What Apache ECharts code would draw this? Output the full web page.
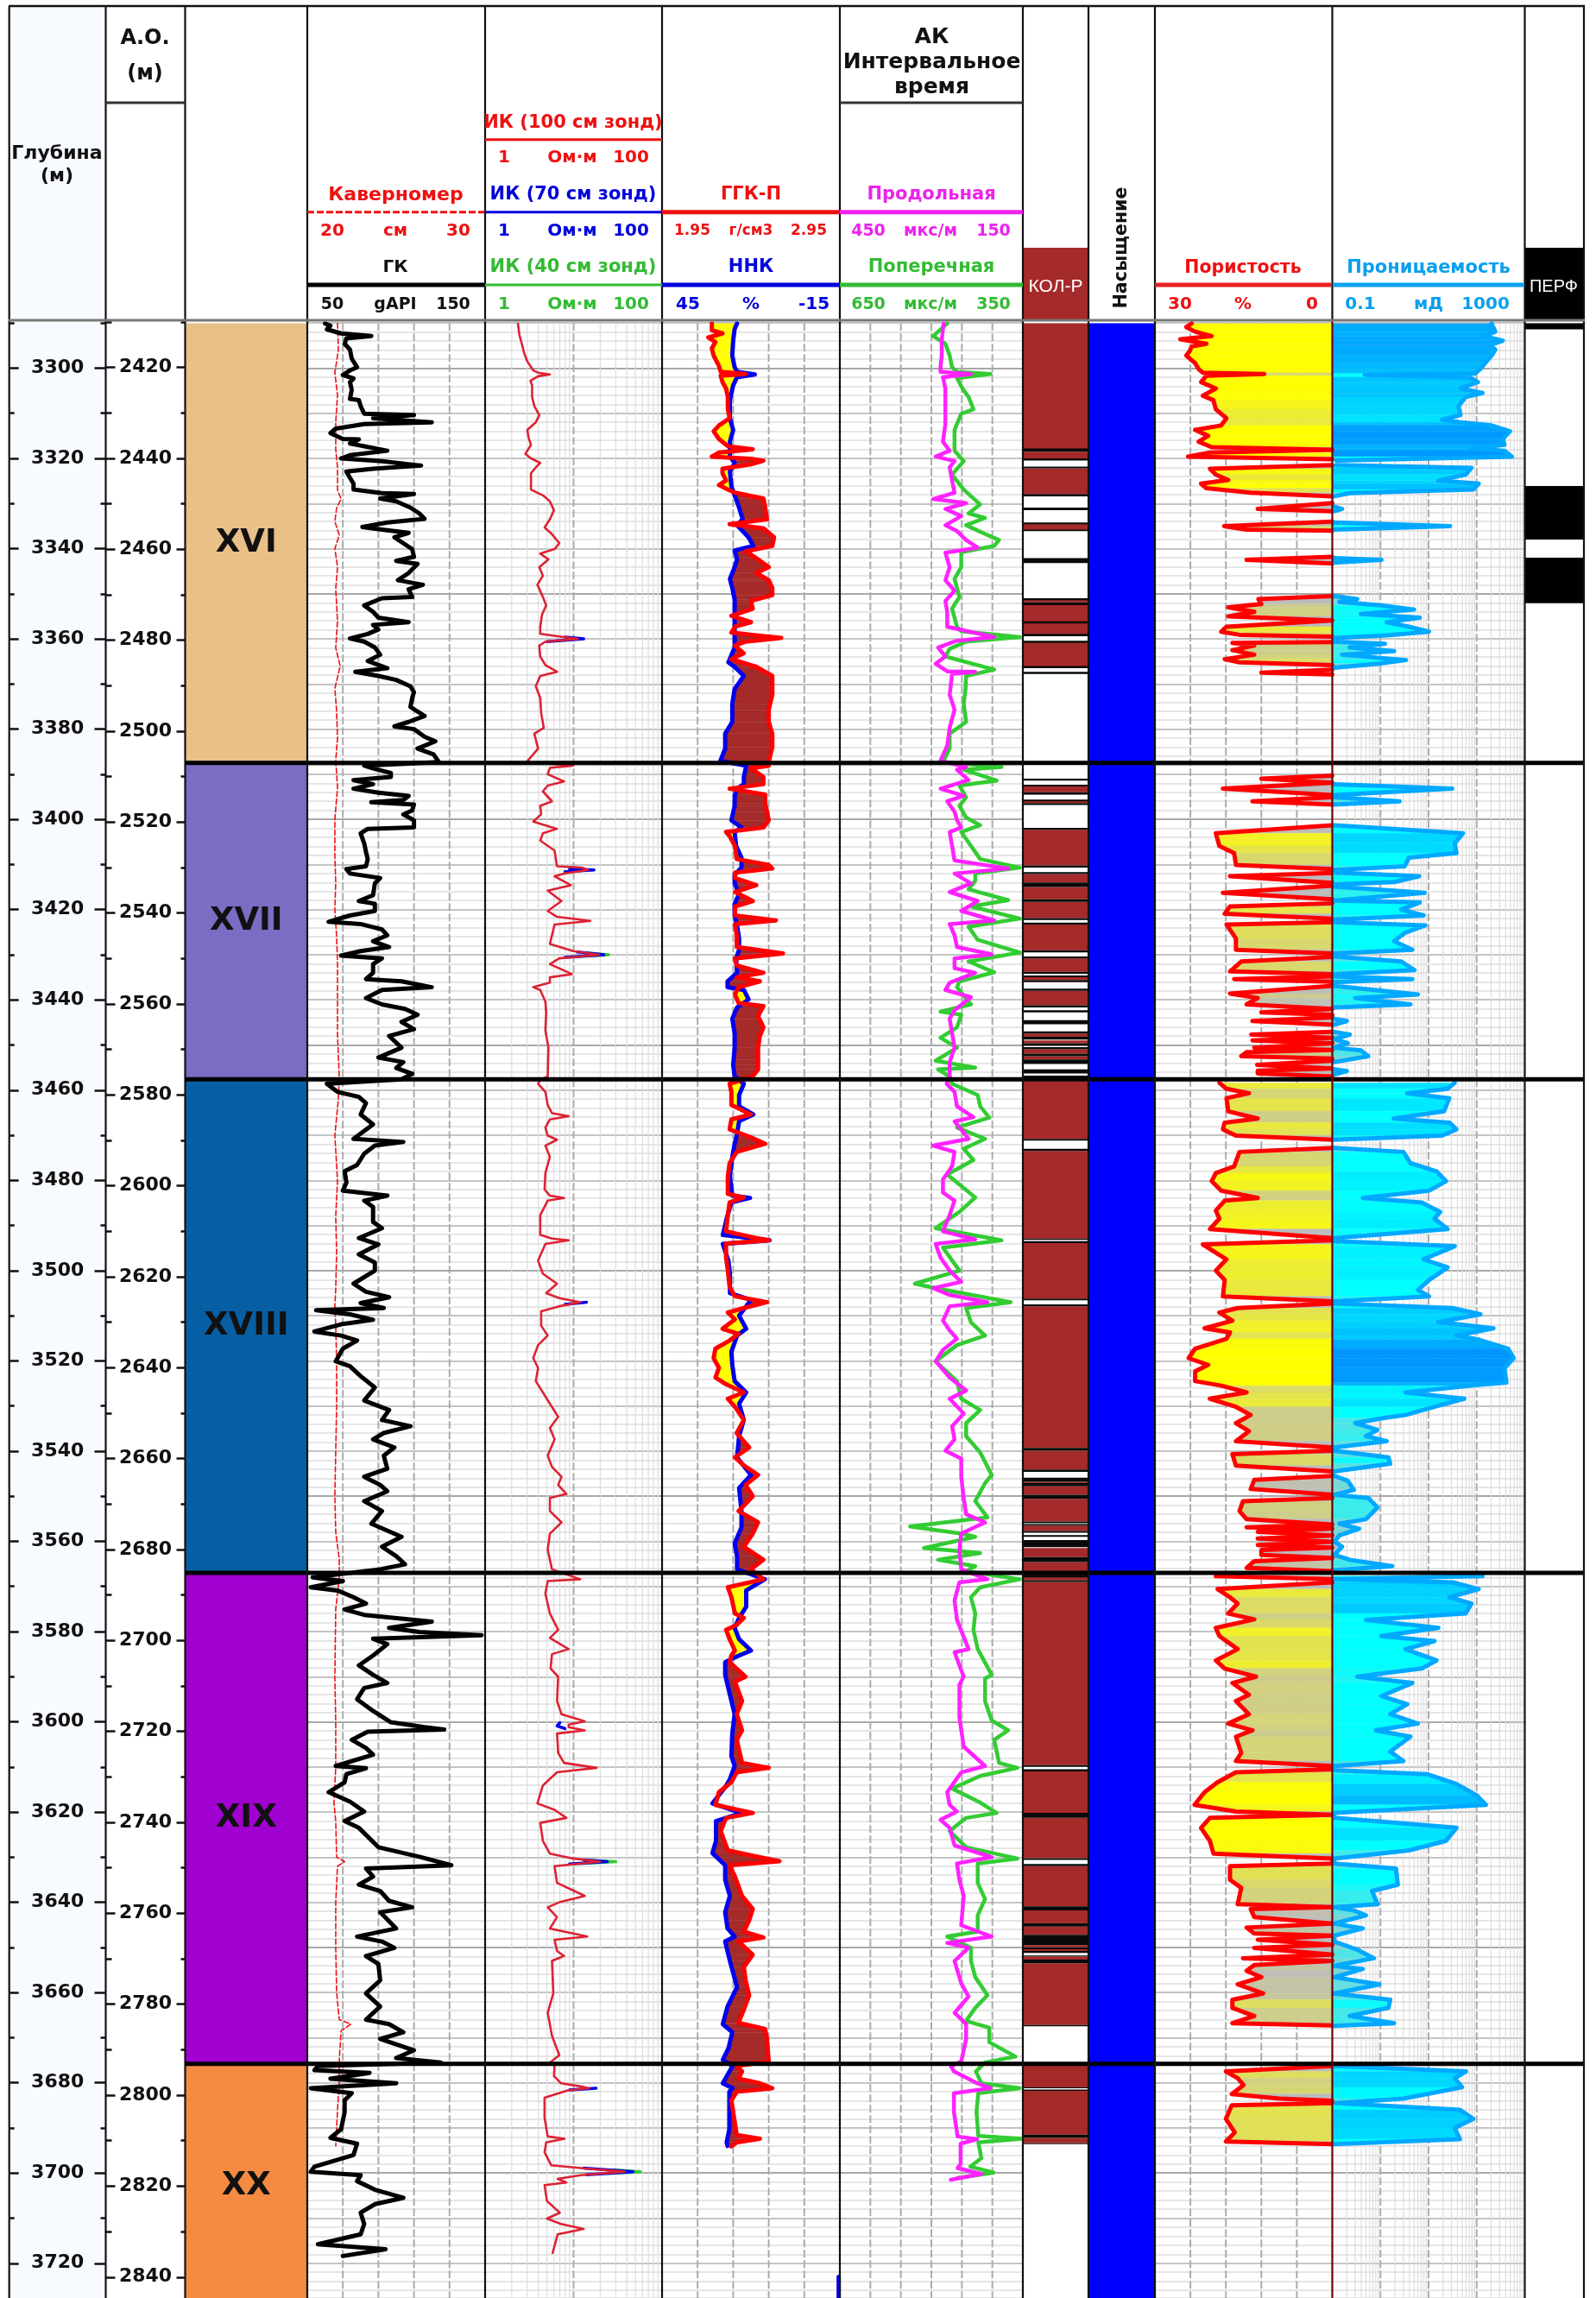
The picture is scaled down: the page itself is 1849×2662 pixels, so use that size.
<!DOCTYPE html>
<html><head><meta charset="utf-8"><title>Каротаж</title>
<script src="https://cdn.jsdelivr.net/npm/echarts@6/dist/echarts.min.js"></script>
<style>html,body{margin:0;padding:0;background:#fff}#c{width:1849px;height:2662px}</style></head>
<body><div id="c"></div>
<script>
// ---------- DATA: [depth m, value]; null = no reading ----------
const zoneNames=['XVI','XVII','XVIII','XIX','XX'];
const zoneTops=[3290,3387.5,3457.6,3567,3675.8];
const zoneBottoms=[3387.5,3457.6,3567,3675.8,3730];
const depthLabels=[3300,3320,3340,3360,3380,3400,3420,3440,3460,3480,3500,3520,3540,3560,3580,3600,3620,3640,3660,3680,3700,3720];
const depthMinor=[3290,3310,3330,3350,3370,3390,3410,3430,3450,3470,3490,3510,3530,3550,3570,3590,3610,3630,3650,3670,3690,3710];
const aoLabels=[2420,2440,2460,2480,2500,2520,2540,2560,2580,2600,2620,2640,2660,2680,2700,2720,2740,2760,2780,2800,2820,2840];
const aoMinor=[2410,2430,2450,2470,2490,2510,2530,2550,2570,2590,2610,2630,2650,2670,2690,2710,2730,2750,2770,2790,2810,2830];

const gkLog=[[3290.1,60],[3290.6,63],[3291.4,61],[3292.3,69],[3292.9,86],[3293.4,72],[3294.6,71],[3295.9,74],[3297.9,75],[3299.8,78],[3300.5,74],[3301.5,70],[3302.3,76],[3303.1,74],[3304.8,75],[3306.8,74],[3307.1,79],[3308.4,80],[3310.1,82],[3310.4,110],[3311.1,87],[3312,120],[3312.4,82],[3313.4,66],[3314.4,63],[3315.7,70],[3315.8,79],[3316.7,74],[3318.3,95],[3319.3,74],[3320,69],[3320.6,92],[3321.6,114],[3322.3,87],[3322.9,72],[3324.3,74],[3325.6,76],[3326.9,76],[3327.7,92],[3327.9,110],[3328.9,91],[3329.5,100],[3330.9,108],[3332.2,113],[3333.4,116],[3334.2,95],[3335.2,81],[3335.8,92],[3336.5,107],[3337.5,99],[3338.8,104],[3340.1,109],[3341.8,110],[3342.7,100],[3343.4,112],[3345.4,107],[3347,101],[3348,115],[3349,107],[3350.7,109],[3351,92],[3352.6,82],[3354,87],[3355.3,90],[3356.3,107],[3356.9,87],[3357.9,90],[3358.9,84],[3359.9,74],[3360.6,82],[3361.9,88],[3363.5,91],[3364.9,84],[3366.5,95],[3367.3,77],[3368.2,90],[3369.1,100],[3370.5,108],[3371.8,110],[3373.1,109],[3375.1,108],[3377.1,116],[3378.4,107],[3379.4,99],[3380,110],[3381.7,116],[3382.7,122],[3384.3,112],[3385.6,121],[3387.3,124],
[3388.1,82],[3388.7,87],[3389.7,97],[3390.6,97],[3391.3,76],[3392.2,87],[3393.2,76],[3394.1,90],[3394.8,107],[3395.7,104],[3396.2,86],[3396.7,110],[3398,109],[3398.9,104],[3400.2,110],[3401.8,110],[3402.1,84],[3403.1,80],[3405.3,82],[3407.2,83],[3408.8,84],[3410.4,83],[3411,72],[3412,74],[3413,91],[3414.2,88],[3416.8,87],[3418.1,79],[3418.7,88],[3420.3,88],[3421.3,74],[3422.7,62],[3423.2,80],[3424.4,92],[3425.7,95],[3427,87],[3428.3,96],[3429.2,80],[3430.2,69],[3430.8,92],[3432.1,87],[3434,87],[3435.4,83],[3435.9,103],[3437.2,120],[3437.8,92],[3439.6,83],[3441,92],[3442,105],[3443.3,112],[3444.9,103],[3446.5,110],[3448,96],[3450.6,103],[3452.8,90],[3453.8,104],[3455.1,100],[3456.4,109],[3457.6,103],
[3458.6,61],[3460.4,67],[3461.5,79],[3462.9,83],[3465.4,80],[3467.6,87],[3470.8,76],[3471.5,104],[3472.3,88],[3474.1,82],[3476.6,78],[3478,71],[3480.5,72],[3482.3,70],[3483.4,95],[3484.5,82],[3485.9,87],[3489.2,87],[3490.6,92],[3492.8,79],[3494.2,90],[3496.4,79],[3498.2,88],[3500,88],[3502.9,76],[3504.7,83],[3505.9,96],[3507.2,80],[3508.3,93],[3508.8,55],[3509.7,74],[3510.9,87],[3511.9,69],[3513.5,54],[3514.4,69],[3515.5,78],[3517.3,70],[3520.1,66],[3521.2,74],[3523.4,80],[3525.9,88],[3528.8,82],[3530.9,96],[3533.1,92],[3534.5,108],[3536,93],[3537.4,87],[3539.2,99],[3541,93],[3543.9,95],[3545.7,82],[3547.5,91],[3548.9,95],[3551.1,82],[3553.3,92],[3556.1,86],[3559,103],[3561.2,92],[3563.3,100],[3565.1,105],[3566.2,91],
[3568,53],[3568.8,70],[3570.2,52],[3570.9,67],[3572.4,76],[3573.8,83],[3575.1,71],[3576.3,82],[3577.8,120],[3579.2,96],[3580.1,113],[3580.8,148],[3581.6,87],[3582.8,95],[3585.3,87],[3587.5,79],[3589.6,87],[3591.4,95],[3592.5,82],[3595,78],[3597.6,87],[3600.1,97],[3601.2,116],[3601.7,127],[3602.2,84],[3604,75],[3605.8,83],[3607.3,87],[3609.8,66],[3610.3,83],[3611.6,72],[3613.4,71],[3615.6,62],[3617.7,74],[3619.9,82],[3622,71],[3623.5,79],[3627.8,90],[3630,114],[3631.8,131],[3632.5,83],[3634.3,87],[3636.1,79],[3637.5,91],[3639.7,96],[3641.1,109],[3642.2,91],[3645.8,100],[3647.6,78],[3648.7,92],[3650.1,99],[3651.9,83],[3653.7,90],[3657.3,91],[3660.2,83],[3663.1,91],[3666,83],[3667,96],[3668.8,104],[3670.3,91],[3672.8,110],[3674.5,100],[3675.5,125],
[3676.3,56],[3677.2,54],[3677.8,85],[3679.1,63],[3680.1,100],[3681.2,52],[3682.3,75],[3683.9,71],[3686.5,71],[3690.3,69],[3692.2,63],[3693.5,78],[3696,76],[3698.6,54],[3699.7,52],[3700.5,80],[3701.8,78],[3703.7,88],[3705.5,104],[3706.9,88],[3708.8,80],[3711.3,82],[3713.6,80],[3715.8,56],[3716.9,94],[3718.4,70]];

const calLog=[[3290,21.7],[3296,21.75],[3301,21.55],[3306,21.7],[3312,21.6],[3318,21.6],[3322,21.7],[3327,21.7],[3329,21.9],[3331,21.65],[3334,21.55],[3337,21.8],[3340,21.55],[3344,21.7],[3349,21.6],[3356,21.7],[3362,21.6],[3366,21.85],[3371,21.55],[3376,21.65],[3382,21.7],[3387,21.6],[3393,21.7],[3400,21.55],[3408,21.55],[3414,21.6],[3420,21.55],[3426,21.65],[3432,21.7],[3440,21.7],[3448,21.7],[3457,21.8],
[3462,21.75],[3470,21.55],[3480,21.7],[3488,21.6],[3496,21.65],[3504,21.6],[3508,21.55],[3512,21.6],[3520,21.65],[3530,21.65],[3540,21.6],[3550,21.55],[3558,21.6],[3564,21.8],[3568,21.8],[3575,21.6],[3590,21.55],[3600,21.6],[3610,21.6],[3618,21.5],[3622,21.6],[3630,21.65],[3631,22.1],[3632,21.7],[3640,21.6],[3650,21.6],[3660,21.65],[3666,21.8],[3667,22.45],[3668.5,21.9],[3675,21.8],[3680,21.8],[3686,21.7],[3694,21.6]];

const ik100Log=[[3290.1,2.35],[3292.6,2.44],[3294.6,2.6],[3296.5,2.75],[3298.5,3],[3300.5,3.5],[3301,3.97],[3301.4,5.4],[3301.8,3.97],[3302.8,3.25],[3303.8,3.4],[3306.4,3.4],[3308.4,3.6],[3310.4,4.1],[3312,3.74],[3313.7,3],[3315.4,3.1],[3317,3.3],[3319,2.85],[3320,3.3],[3321,4.2],[3322,3.74],[3323.3,3.3],[3324.9,3.3],[3326.9,3.3],[3328.2,4.5],[3329.5,5.4],[3331.5,6],[3333.5,5.4],[3335.3,4.7],[3336.8,5.7],[3338.8,6.9],[3340.1,6.1],[3341.1,4.2],[3342.4,5.2],[3344.1,4.1],[3346,4.5],[3348,3.9],[3350.7,4.5],[3352.6,4.9],[3354.6,4.4],[3357.3,4.2],[3358.9,4.2],[3359.6,7.8],[3360,11.2],[3360.6,4.8],[3361.5,4.1],[3363.9,4.2],[3365.8,4.8],[3367.3,6.5],[3368.2,4.2],[3370.5,3.74],[3373.1,4.2],[3376.4,4.3],[3379.7,4.6],[3381,3.6],[3384.3,3.97],[3385.6,3.5],[3387.3,2.93],
[3388.1,9.9],[3388.6,5.4],[3390,5.1],[3391.6,7.8],[3392.5,5.1],[3393.8,4.5],[3396,5.7],[3397,4.2],[3398.9,4.3],[3400.5,3.5],[3402.1,6.5],[3403.1,4.5],[3404.7,4.2],[3406.9,6.1],[3410.4,6.5],[3410.7,12.6],[3411.2,14.6],[3412,7.8],[3412.6,6.1],[3414.6,9.3],[3415.8,5.1],[3418.1,7.3],[3420.3,5.1],[3421.6,6.5],[3422.5,15.5],[3423.3,6.1],[3427.6,5.4],[3429.2,9.9],[3430,19.5],[3430.8,6.9],[3432.1,5.4],[3434.3,9.6],[3435,5.4],[3436.2,5.4],[3437.2,3.5],[3437.8,4.2],[3440.4,4.8],[3442.9,4.9],[3446.8,4.8],[3450.6,5.2],[3457,5.1],[3457.7,4.2],
[3458.6,3.97],[3460.4,4.8],[3463.3,5.1],[3465.1,5.7],[3465.8,8.8],[3466.5,5.4],[3468.3,4.8],[3470.1,5.1],[3471,6.5],[3472.3,4.8],[3474.8,5.4],[3478.4,4.8],[3482,4.7],[3483.4,5.4],[3483.9,7.8],[3484.5,5.1],[3487.7,4.2],[3492.1,4.2],[3492.9,5.7],[3493.3,8.8],[3494.1,4.8],[3497.8,3.97],[3500.7,4.5],[3502.9,6.5],[3505,4.9],[3506.1,6.9],[3507,11.9],[3507.9,6.9],[3509,4.3],[3512.2,4.3],[3514.4,5.1],[3516.5,3.97],[3519.4,3.5],[3521.6,3.97],[3524.5,3.74],[3527,4.5],[3529.5,5.4],[3532.4,6.7],[3534.9,5.4],[3537.4,6.1],[3541,5.1],[3543.5,5.7],[3545.7,7.3],[3547.5,6.7],[3549.5,8.3],[3550.4,5.4],[3553.3,5.4],[3555.8,7.3],[3558.3,5.4],[3561.9,5.1],[3566.2,5.7],
[3568.4,11.9],[3568.8,5.1],[3571.6,4.8],[3576,5.4],[3579.6,6.7],[3581.4,5.4],[3583.9,8.8],[3585,5.7],[3588.2,5.5],[3590,6.7],[3595.4,6.5],[3598.3,7.3],[3599.9,13.4],[3600.6,8.8],[3601.2,8.8],[3601.9,13.4],[3602.6,6.5],[3606.9,6.7],[3609.1,7.8],[3610.2,18.2],[3611.2,6.5],[3614.1,4.5],[3618.1,3.9],[3619.5,6.1],[3621.3,8.3],[3622.4,4.2],[3626.4,4.5],[3629.2,5.4],[3630.3,9.9],[3631,20],[3632,6.1],[3635.7,6.5],[3638.6,13.4],[3640,6.9],[3641.1,5.1],[3643.3,6.5],[3645.8,5.4],[3647.6,14.3],[3648.3,6.1],[3650.8,6.5],[3651.9,7.8],[3653,5.7],[3660.2,5.9],[3664.5,5.1],[3669.6,5.7],[3673.9,6.9],[3675.5,5.4],
[3676.3,6.1],[3678.5,6],[3680.1,7.2],[3680.8,12],[3681.2,15],[3681.7,8.6],[3683.3,4.7],[3687.7,4.7],[3691.9,5.1],[3692.4,7.9],[3693.2,4.9],[3695.4,4.7],[3698.3,5.6],[3698.9,12],[3699.7,38],[3700.5,12],[3701.3,6.6],[3702.1,8.3],[3702.7,4.7],[3706.2,5],[3708.8,7],[3710.1,5],[3711.3,7.2],[3712.4,13],[3713.6,6.6],[3717.7,5.8]];
const ik70Tips=[[3359.6,8],[3360,13],[3360.6,5],[3361,null],[3411,9],[3411.2,17],[3411.6,8],[3412,null],[3429.4,11],[3430,22],[3430.6,8],[3431,null],[3507,14],[3507.5,8],[3508,null],[3600.2,7],[3600.9,6.5],[3601.5,8],[3602,null],[3630.6,13],[3631,24],[3631.5,9],[3632,null],[3698.9,13],[3699.7,47],[3700.4,14],[3701,null],[3681.2,18],[3681.6,9]];
const ik40Tips=[[3429.6,14],[3430,25],[3430.4,11],[3431,null],[3630.7,15],[3631,30],[3631.4,12],[3632,null],[3699.3,28],[3699.7,57],[3700.1,24]];

const ggkLog=[[3290.1,2.23],[3291.6,2.23],[3292.3,2.29],[3293.2,2.21],[3294.2,2.25],[3295.6,2.23],[3297.2,2.24],[3299.5,2.27],[3300.8,2.28],[3301.3,2.42],[3301.7,2.28],[3303.1,2.29],[3304.5,2.31],[3306.4,2.32],[3309.1,2.32],[3311.1,2.33],[3312.7,2.27],[3314,2.24],[3315.7,2.27],[3317.3,2.32],[3318,2.46],[3318.7,2.27],[3319.6,2.23],[3320.1,2.45],[3320.5,2.52],[3321.3,2.45],[3322.3,2.29],[3323.3,2.29],[3324.9,2.31],[3325.9,2.27],[3326.9,2.32],[3327.6,2.36],[3328.9,2.52],[3330.9,2.53],[3333.5,2.54],[3334.6,2.33],[3335.5,2.52],[3337.5,2.58],[3339.4,2.57],[3340.6,2.42],[3342.1,2.48],[3344.1,2.55],[3345.4,2.48],[3347,2.55],[3348.7,2.57],[3350.3,2.57],[3351.6,2.45],[3353.3,2.46],[3354.9,2.34],[3356.3,2.45],[3357.3,2.36],[3358.6,2.34],[3359.2,2.48],[3359.8,2.62],[3360.6,2.42],[3361.5,2.36],[3363.2,2.41],[3364.5,2.34],[3366.2,2.48],[3368.2,2.57],[3372.4,2.57],[3375.7,2.55],[3378.4,2.55],[3381,2.57],[3384,2.57],[3387.3,2.55],
[3388.1,2.55],[3388.7,2.45],[3390.6,2.52],[3392.2,2.52],[3393.2,2.33],[3394.5,2.53],[3396.4,2.53],[3398.3,2.54],[3400.2,2.55],[3401.8,2.52],[3402.8,2.31],[3403.7,2.33],[3405.9,2.36],[3408.8,2.37],[3410.1,2.55],[3410.9,2.57],[3411.8,2.36],[3413,2.36],[3414.6,2.48],[3416.1,2.36],[3418.1,2.46],[3419.3,2.36],[3421.3,2.36],[3422.4,2.59],[3423.2,2.36],[3425.7,2.37],[3428.3,2.37],[3429.7,2.63],[3430.8,2.36],[3432.4,2.37],[3434,2.52],[3435,2.37],[3435.9,2.5],[3437.2,2.38],[3438.8,2.36],[3440.7,2.38],[3441.4,2.52],[3443.6,2.49],[3446.1,2.52],[3448,2.5],[3450.6,2.49],[3453.2,2.49],[3455.4,2.49],[3457,2.46],
[3458.6,2.33],[3460.4,2.34],[3463.3,2.34],[3465.4,2.45],[3466.5,2.34],[3468.7,2.33],[3470.5,2.45],[3471.9,2.53],[3473.7,2.37],[3476.2,2.33],[3479.1,2.32],[3483,2.32],[3483.8,2.41],[3484.9,2.33],[3487.7,2.32],[3491.3,2.31],[3492.8,2.48],[3493.3,2.55],[3494,2.31],[3497.1,2.31],[3500,2.32],[3503.6,2.33],[3505.7,2.36],[3507,2.54],[3508.3,2.41],[3509.3,2.32],[3510.8,2.36],[3512.9,2.29],[3514,2.38],[3515.5,2.33],[3517.3,2.25],[3519.4,2.24],[3521.6,2.27],[3523.7,2.25],[3525.2,2.31],[3527,2.41],[3528.4,2.32],[3530.2,2.36],[3533.1,2.41],[3536,2.37],[3539.2,2.44],[3541.4,2.36],[3543.2,2.41],[3545.3,2.49],[3547.5,2.42],[3550,2.46],[3553.3,2.38],[3555.8,2.49],[3558.3,2.46],[3561.2,2.41],[3564.1,2.52],[3566.2,2.45],
[3568.4,2.52],[3570.2,2.32],[3572.4,2.34],[3576,2.36],[3577,2.41],[3578.5,2.37],[3579.6,2.31],[3581.7,2.33],[3584.2,2.36],[3585.3,2.34],[3586.8,2.33],[3590,2.42],[3591.1,2.36],[3595.4,2.4],[3598.3,2.37],[3601.9,2.4],[3604,2.37],[3609.1,2.4],[3610.2,2.55],[3611.2,2.37],[3613.4,2.34],[3615.6,2.27],[3618.4,2.25],[3620.2,2.46],[3621.3,2.31],[3624.2,2.28],[3628.5,2.32],[3630,2.5],[3630.9,2.61],[3631.8,2.33],[3634.3,2.36],[3638.6,2.4],[3641.5,2.46],[3644,2.44],[3646.5,2.41],[3647.8,2.52],[3648.7,2.38],[3651.6,2.46],[3654.4,2.41],[3657.3,2.42],[3660.6,2.44],[3663.8,2.41],[3666.7,2.38],[3668.1,2.53],[3670.3,2.54],[3675.3,2.55],
[3676.3,2.37],[3677.5,2.4],[3679.1,2.38],[3680.1,2.5],[3681.2,2.57],[3682,2.37],[3683.9,2.34],[3691.6,2.37],[3692.4,2.5],[3693.2,2.37],[3694.1,2.34]];

const nnkLog=[[3290.1,19.7],[3291.3,20.5],[3293.9,21],[3297.2,21.3],[3299.8,20.5],[3300.8,19.7],[3301.4,13.7],[3302,19.7],[3303.8,21],[3307.1,22.1],[3311.1,22.1],[3313.7,21],[3316.3,22.1],[3319.6,22.1],[3321,20.5],[3322.9,22.1],[3326.2,21.6],[3328.2,20.5],[3330.9,19],[3333.5,17.8],[3334.8,19.7],[3337.5,15.8],[3339.4,14.2],[3340.4,20.5],[3342.4,19.7],[3344.1,20.5],[3346.7,22.1],[3348.7,21.3],[3351.3,20.5],[3355.9,20.5],[3361.9,20.5],[3365.2,22.6],[3366.2,20.5],[3368.2,17.4],[3371.1,20.5],[3374.4,21.3],[3378.4,21.3],[3381,23.7],[3384.3,23.7],[3387,25.3],
[3388.1,16.6],[3390.6,17.4],[3392.2,17.4],[3393.2,19.7],[3394.8,20.5],[3397,20.5],[3400.2,21.6],[3401.8,18.2],[3402.8,20.5],[3405.9,20],[3408.5,18.2],[3410.7,18.2],[3412.3,20.5],[3414.2,20.5],[3416.5,19],[3418.7,20.5],[3421.3,20.5],[3423.5,19.7],[3426.4,19],[3428.9,19],[3430.8,20],[3434,19.7],[3435.9,22.9],[3437.2,22.9],[3437.8,17.4],[3439.9,15.8],[3441.7,19.7],[3444.2,21.3],[3447.4,20.5],[3450.6,20.5],[3454.4,21],[3457,20.5],
[3458.6,17.4],[3461.1,19],[3463.6,19],[3465.4,14.2],[3466.9,19],[3469.7,19.7],[3471.9,20.5],[3474.8,21.3],[3479.1,22.1],[3483.4,21.3],[3483.9,15.3],[3484.9,21.6],[3488.5,23.2],[3492.1,24.5],[3493.3,8.7],[3494.1,24.5],[3497.8,22.6],[3500.7,22.1],[3505,22.1],[3506.5,15],[3507.9,16.6],[3510,19],[3512.9,16.6],[3514.4,19.7],[3518,21.6],[3520.9,21.3],[3524.5,20.5],[3527,16.6],[3529.5,19],[3533.1,17.4],[3536.7,19],[3541.4,19.7],[3545.3,15],[3548.2,19],[3553.3,18.2],[3556.9,18.2],[3560.5,20.5],[3563.3,19.7],[3566.2,19.7],
[3568.4,10.3],[3570.9,16.6],[3574.5,16.6],[3577,19],[3579.2,20.5],[3581.7,19],[3584.2,15],[3585.5,19.7],[3586.8,23.7],[3589.6,23.7],[3594,22.1],[3598.3,20.5],[3602.6,21.3],[3607.6,21.6],[3609.8,20.5],[3612.7,22.1],[3614.5,23.7],[3618.1,28],[3620.2,18.2],[3622,26.8],[3626.4,26.8],[3629.1,28],[3631.8,23.7],[3635,23.7],[3638.6,22.1],[3642.2,23.7],[3645.8,22.9],[3647.6,20.5],[3648.7,23.7],[3653,22.1],[3658.8,19.7],[3663.1,22.9],[3667,24.5],[3668.8,21.3],[3672.4,22.6],[3674.9,24.5],
[3676.3,21.2],[3680.1,24.5],[3681.2,21.2],[3682,22.3],[3686.5,22.3],[3690.3,22.3],[3693.2,23.2],[3694,22.9],[3694.5,null],[3723,-14.6],[3727.7,-14.6]];

const akPLog=[[3290.1,280],[3293.9,283],[3297.2,283],[3299.8,285],[3300.8,285],[3301.3,235],[3302,281],[3304.5,277],[3308.4,277],[3312.4,277],[3316.3,281],[3318.3,270],[3319.6,293],[3320.6,262],[3322,270],[3324.9,266],[3327.6,262],[3329,297],[3329.9,243],[3331.2,277],[3332.8,251],[3334.8,277],[3336.1,258],[3338.1,243],[3339.8,224],[3340.9,277],[3344.1,270],[3347,277],[3349.3,262],[3351.6,277],[3354,274],[3357.3,274],[3359.6,197],[3360.4,258],[3361.9,289],[3363.9,277],[3365.5,293],[3367.2,274],[3367.3,228],[3367.8,266],[3372.4,270],[3375.7,262],[3379.7,270],[3383.7,274],[3387,285],
[3388.4,243],[3389,258],[3391.3,239],[3393.2,285],[3394.8,247],[3396,274],[3398.3,262],[3400.2,258],[3401.8,251],[3402.8,270],[3405.9,266],[3409.1,262],[3410.9,174],[3412,262],[3414.2,235],[3416.1,270],[3418.1,224],[3420.3,251],[3422.4,197],[3423.2,270],[3425.7,262],[3428.3,258],[3429.9,201],[3430.8,262],[3433,262],[3434,228],[3436.2,270],[3437.8,277],[3439.4,235],[3442.3,262],[3444.2,270],[3447.4,266],[3450.6,262],[3453.8,270],[3456,270],[3457.3,270],
[3458.6,275],[3460.4,262],[3463.6,258],[3466,231],[3466.9,262],[3470.8,239],[3472.3,297],[3473.7,262],[3476.9,266],[3479.8,281],[3482.7,281],[3484.5,262],[3487.7,270],[3491.3,281],[3493.1,228],[3494.1,293],[3497.1,285],[3500,270],[3502.5,251],[3503.9,297],[3505.4,270],[3507,208],[3507.9,270],[3511.1,281],[3513.3,270],[3515.1,258],[3517.6,281],[3520.1,293],[3523.7,270],[3526.6,243],[3528.4,270],[3531.7,247],[3534.5,266],[3537.4,262],[3539.9,277],[3541.7,251],[3545.7,251],[3550.4,247],[3554,243],[3555.8,212],[3558.3,251],[3561.9,254],[3566.2,251],
[3568.4,208],[3569.1,254],[3573.1,262],[3577.4,258],[3583.9,239],[3584.6,262],[3590,247],[3591.8,254],[3599,254],[3605.5,247],[3609.8,212],[3611.2,251],[3615.6,274],[3618.4,270],[3619.9,258],[3621.7,285],[3623.5,270],[3627.4,262],[3630,201],[3631.4,258],[3635,254],[3638.6,247],[3645.1,251],[3647.6,201],[3649,274],[3650.1,239],[3653,262],[3658,251],[3660.9,239],[3664.5,262],[3667,243],[3670.3,243],[3675.3,251],
[3676.3,268],[3677.5,263],[3680.1,225],[3681.2,203],[3682.3,263],[3686.5,263],[3691.9,257],[3692.5,225],[3693.5,252],[3698,252],[3698.9,257],[3700.2,218],[3701.5,268]];

const akSLog=[[3290.1,474],[3292.9,497],[3294.6,477],[3297.2,470],[3299.8,466],[3300.8,458],[3301.3,403],[3302.2,458],[3304.5,449],[3306.4,439],[3309.1,431],[3310.1,451],[3313.7,462],[3318.3,462],[3320.6,447],[3323.6,466],[3326.9,447],[3330.2,420],[3332.2,439],[3333.2,412],[3334.8,443],[3336.5,416],[3338.1,389],[3339.4,397],[3340.8,451],[3344.1,451],[3346.7,462],[3350.7,454],[3353.3,466],[3357.3,458],[3358.3,451],[3359.6,355],[3360.6,443],[3362.2,470],[3363.9,477],[3366.8,397],[3368.2,443],[3371.1,444],[3374.4,447],[3378.4,443],[3381,470],[3384.3,470],[3387.3,481],
[3388.4,385],[3389,447],[3391.4,393],[3392.5,454],[3395.1,443],[3397,454],[3399.6,443],[3401.3,420],[3402.8,451],[3405.9,435],[3408.8,420],[3410.7,355],[3412,428],[3413.6,428],[3415.5,439],[3417.9,374],[3419.3,435],[3422,355],[3423.8,439],[3426.7,424],[3429.5,355],[3431.5,439],[3433.9,397],[3435.9,454],[3437.2,458],[3441,435],[3442.6,485],[3443.3,451],[3446.1,458],[3448.4,485],[3450.6,458],[3453.5,493],[3455,428],[3455.4,489],[3457,470],
[3458.6,466],[3461.1,424],[3463.6,420],[3466.1,405],[3468.3,458],[3470.8,412],[3473,447],[3475.5,431],[3478.7,474],[3483.8,428],[3487,454],[3490.6,493],[3493.3,385],[3494.9,481],[3500,454],[3502.9,527],[3503.9,493],[3507,370],[3508.3,443],[3511.5,435],[3514.4,412],[3516.5,458],[3520.1,493],[3524.5,458],[3528.4,451],[3530.9,420],[3533.8,443],[3536.7,443],[3540.3,420],[3545.3,401],[3547.1,412],[3551.1,428],[3554.7,408],[3556.7,535],[3558.3,451],[3559,428],[3561.5,512],[3562.6,420],[3564.1,489],[3565.5,428],[3566.6,443],
[3568.4,355],[3570.2,420],[3572.4,435],[3576,428],[3579.6,431],[3583.9,424],[3589.6,401],[3590.4,412],[3595.4,412],[3599.7,401],[3601.9,374],[3604,397],[3609.1,389],[3610.2,359],[3612,420],[3614.8,466],[3617.9,420],[3620.2,393],[3621.3,443],[3624.2,470],[3627.8,443],[3630.3,359],[3631.4,424],[3635.7,424],[3639.3,412],[3642.9,424],[3646.5,424],[3647.6,474],[3650.1,435],[3653,435],[3656.6,428],[3660.6,408],[3663.4,428],[3666.3,443],[3667.8,405],[3671,405],[3674.2,362],[3675.5,412],
[3676.3,418],[3677.5,427],[3680.1,418],[3681.2,355],[3682.3,423],[3686.5,426],[3691.8,423],[3692.4,352],[3693.2,423],[3696.7,418],[3698.6,436],[3699.9,398],[3701.1,457]];

const porLog=[[3290.1,23.8],[3290.9,24.7],[3291.9,23.2],[3292.9,20.4],[3293.6,25.7],[3294.6,21.3],[3295.2,23.8],[3296.2,24.1],[3297.2,24.7],[3298.9,23.2],[3300.2,22.6],[3301,21.9],[3301.3,11.5],[3301.7,21.3],[3303.1,22.2],[3304.5,19.7],[3306.1,21.9],[3307.1,20.1],[3309.1,19.7],[3311.1,17.9],[3312.7,18.8],[3313.7,23.2],[3315,21],[3316.3,22.6],[3317.5,20.4],[3318.1,0],[3318.7,20.7],[3319.6,24.4],[3320.2,0],[3320.5,null],[3321.5,0],[3322.3,20.7],[3323.6,19.7],[3324.8,17.6],[3325.6,22.2],[3326.6,21.3],[3327.6,13.8],[3328.4,0],[3328.8,null],[3329.9,0],[3331.2,12.6],[3331.7,0],[3332,null],[3334,0],[3335,18.3],[3335.8,14.5],[3336,0],[3336.5,null],[3341.8,0],[3342.5,14.5],[3343.3,0],[3343.6,null],[3350.5,0],[3351.2,12.5],[3352.3,12],[3353,17.6],[3354,13.2],[3355,17.6],[3355.9,0],[3357.3,17.9],[3358.4,18.8],[3359.1,15.7],[3359.5,0],[3360,null],[3360.7,0],[3360.9,16.9],[3361.5,13.2],[3362.5,16.9],[3363.5,13.2],[3364.5,18.2],[3365.2,15.7],[3365.8,0],[3366.2,null],[3366.8,0],[3367.5,12],[3367.9,0],[3368.2,null],
[3390.3,0],[3391,12],[3391.9,0],[3392.2,0],[3393.2,18.5],[3394.6,0],[3394.8,null],[3395.1,0],[3396,13.5],[3396.7,0],[3397,null],[3401.3,0],[3403.1,19.7],[3405.9,19.1],[3407.5,16.6],[3410.1,16.3],[3411,0],[3411.9,0],[3412.6,17.3],[3414.1,0],[3414.7,0],[3416.3,18.5],[3417.7,0],[3418.6,0],[3419.3,17.3],[3420.9,18.2],[3422,0],[3422.8,0],[3423.3,17.9],[3426.4,16.3],[3428.9,16.3],[3429.7,0],[3430.5,0],[3431.5,15.4],[3433.7,17.3],[3434.3,0],[3434.8,0],[3435.4,16.6],[3436,0],[3436.9,0],[3438.6,17.3],[3439.6,12.6],[3441,14.5],[3442,0],[3442.3,0],[3442.8,12],[3443.3,0],[3443.9,0],[3444.7,13.5],[3445.5,0],[3446,null],[3447.1,0],[3447.7,13.7],[3448.4,0],[3449,13.5],[3449.6,0],[3450.6,13.2],[3451.1,0],[3451.6,14.5],[3452.5,15.4],[3453,0],[3453.5,0],[3454.4,12.7],[3455.2,0],[3455.7,12.6],[3456.3,12.6],[3457,0],[3457.3,null],
[3458.4,19.1],[3459.7,17.9],[3460.7,14.1],[3461.8,17.9],[3464.7,17.6],[3466.3,12.6],[3467.2,18.2],[3468.7,18.5],[3470.1,16.3],[3471,0],[3471.5,null],[3472.8,0],[3473.7,15.7],[3476.9,16.6],[3478.4,19.7],[3480.2,20.4],[3482.3,18.8],[3483.9,12.6],[3484.5,18.2],[3486.7,19.7],[3488.5,19.1],[3490.8,20.7],[3492.8,0],[3493.3,0],[3494.2,21.9],[3497.5,17.9],[3500,19.7],[3502.1,18.2],[3505.7,18.5],[3506.8,0],[3507.3,0],[3508.3,16],[3509.3,19.1],[3511.1,16.9],[3512.8,21.6],[3513.7,17.3],[3515.1,17.9],[3517.3,23.2],[3519.4,24.3],[3520.9,21],[3522.3,23.2],[3524.5,23.2],[3525.5,18.8],[3527,14.5],[3528.4,20.7],[3530.2,16.3],[3532,13.8],[3533.8,16.3],[3535.6,14.1],[3537.8,16.3],[3539.2,0],[3539.9,0],[3540.7,16.9],[3543.2,16.3],[3544.5,0],[3545,null],[3545.5,0],[3546.4,13.2],[3548.4,13.8],[3549.7,0],[3550.4,0],[3551.1,15.1],[3553.3,15.7],[3555.1,14.5],[3556.3,0],[3556.9,14.5],[3557.2,0],[3557.9,12.6],[3558.7,0],[3559.4,12.6],[3560.1,0],[3560.8,12.6],[3561.4,0],[3561.9,12],[3563,12],[3563.7,0],[3564.4,13.2],[3565.9,14.5],[3566.6,0],[3567,null],
[3567.7,19.7],[3568.4,0],[3569.1,0],[3570.6,19.4],[3572.4,17.3],[3573.8,16],[3576,17.6],[3577.3,13.2],[3579.2,19.7],[3581,19.1],[3583.9,16],[3586.4,19.7],[3588.2,18.2],[3590,12.9],[3591.4,16.9],[3594,14.1],[3595.4,16.3],[3598.3,14.1],[3600.4,17.6],[3601.9,13.5],[3603.3,16.3],[3606.9,15.4],[3608.7,16.3],[3609.8,0],[3610.5,0],[3611.2,16.3],[3613.4,19.4],[3615.6,21.6],[3618.4,23.3],[3619.9,16.3],[3620.6,0],[3621.3,20.7],[3623.5,22.2],[3626.4,20.7],[3629.2,20.1],[3630.3,0],[3631.4,0],[3632,17.3],[3635,17.3],[3636.8,15.4],[3640.4,16],[3641.1,0],[3641.5,13.8],[3643.3,13.2],[3644.7,0],[3645.6,14.5],[3646.9,13.2],[3647.4,0],[3648.3,12.6],[3649.4,0],[3650.1,13.2],[3651.6,0],[3652.4,15.1],[3653,0],[3653.9,13.2],[3655.2,14.5],[3656.6,12],[3658.2,16],[3660.2,11.7],[3661.6,16.9],[3663.4,16.9],[3665.2,13.2],[3666.8,16.9],[3667.3,0],[3667.6,null],
[3676.3,0],[3677.5,18],[3679,16],[3680.5,15],[3682.5,17],[3683.5,9],[3684,0],[3684.5,0],[3685,17],[3688,18],[3691,16.5],[3693,18],[3693.6,0]];

const permLog=[[3290.1,204],[3291.9,244],[3292.9,144],[3293.9,348],[3294.9,188],[3295.9,244],[3297.2,204],[3298.9,150],[3300.2,118],[3301.2,92],[3301.5,0.47],[3302,71],[3303.1,106],[3304.5,46],[3305.5,132],[3306.4,59],[3308.4,42],[3310.4,46],[3311.4,19],[3312,46],[3312.7,204],[3314,492],[3315.7,348],[3317,380],[3317.8,78],[3318.3,380],[3319.6,540],[3320.5,0.12],[3321,null],[3321.5,0.12],[3322.1,78],[3323.6,59],[3324.9,16],[3325.6,110],[3326.9,85],[3327.7,0.23],[3328.4,0.11],[3329,null],[3330.7,0.11],[3331.2,0.16],[3331.7,0.11],[3332,null],[3334.2,0.11],[3335,28],[3335.8,0.11],[3336.2,null],[3342.1,0.11],[3342.5,1.05],[3343.1,0.11],[3343.5,null],[3350.5,0.11],[3351.2,0.33],[3351.8,0.14],[3352.6,1.13],[3353.5,5],[3354.5,0.39],[3355.3,6.6],[3356.3,1.35],[3357.3,3.9],[3358.4,10.2],[3359.2,1.35],[3359.8,0.11],[3360.2,null],[3360.6,0.11],[3361.1,1.24],[3361.9,0.23],[3362.7,1.93],[3363.5,0.16],[3364.7,3.4],[3365.5,0.95],[3366.4,0.11],[3366.8,null],
[3392.2,0.11],[3393.2,31],[3394.6,0.11],[3394.8,null],[3395.1,0.11],[3396,2.5],[3396.7,0.11],[3397,null],[3401.3,0.11],[3403.1,52],[3405.3,35],[3407.5,38],[3408.5,3.9],[3410.4,3.2],[3411.2,0.11],[3411.8,0.11],[3412.6,6.4],[3413.9,1.93],[3414.4,0.11],[3414.9,0.11],[3416.3,8.3],[3418,0.11],[3418.4,6.6],[3420,2.7],[3421.3,7.9],[3422.2,0.11],[3422.8,0.11],[3423.5,8.6],[3425.1,3.3],[3427,1.93],[3428.9,4.6],[3429.7,0.11],[3430.4,0.11],[3431.5,2.7],[3433.4,5.1],[3434.3,0.11],[3434.8,0.11],[3435.4,4.6],[3436.1,0.11],[3436.9,0.11],[3438.8,6],[3439.6,0.3],[3441,4.2],[3441.7,0.11],[3443,null],[3444.2,0.11],[3444.7,0.2],[3445.5,0.11],[3446,null],[3447.1,0.11],[3447.7,0.23],[3448.7,0.11],[3449.6,0.21],[3450.6,0.11],[3451.2,0.39],[3452.5,0.56],[3453.8,0.11],[3454.5,null],[3455.4,0.11],[3455.8,0.2],[3456.5,0.11],[3457,null],
[3458.4,35],[3459.7,25],[3460.7,3.6],[3461.8,27],[3464.7,21],[3466.3,1.9],[3467.2,27],[3468.7,38],[3470.1,19],[3471,0.11],[3471.5,null],[3472.8,0.11],[3473.7,3],[3476.2,4.2],[3478,14.6],[3480.2,23],[3482.3,10.2],[3483.9,0.43],[3484.9,7.2],[3487,17.5],[3488.5,13.3],[3490.8,25],[3492.8,0.11],[3493.5,0.11],[3494.6,35],[3497.5,7.9],[3499.3,25],[3502.1,10.2],[3504.3,6],[3505.7,10.2],[3506.8,0.11],[3507.3,0.11],[3508.3,31],[3509.7,120],[3511.4,16],[3512.8,223],[3514.4,38],[3515.3,110],[3517.3,450],[3519.4,590],[3521.6,380],[3524.8,415],[3525.5,78],[3527,3.3],[3528.4,55],[3530.2,13.3],[3532,3.3],[3532.7,1.13],[3533.8,0.3],[3535.3,0.87],[3536.7,0.5],[3537.8,1.35],[3539.2,0.11],[3539.9,0.11],[3541.4,1.47],[3542.8,1.6],[3544.5,0.11],[3545,null],[3545.5,0.11],[3546.6,0.21],[3548.6,0.28],[3549.7,0.11],[3550.4,0.56],[3552.5,0.87],[3555.1,0.5],[3556.1,0.14],[3557.2,0.36],[3558.7,0.14],[3560.1,0.11],[3561.2,0.16],[3563,0.11],[3564.1,0.23],[3565.5,1.76],[3566.4,0.11],[3567,null],
[3567.7,132],[3568.4,0.11],[3569.1,32],[3570.6,110],[3572.4,27],[3573.8,78],[3576,59],[3577.4,0.5],[3579.2,16],[3581,1.04],[3582.1,13.3],[3583.9,3.3],[3586.4,14.6],[3588.2,7.2],[3590,0.33],[3591.4,4.6],[3594.3,1.04],[3596.1,3.6],[3598.3,1.6],[3600.4,6],[3601.9,0.8],[3603.3,4.2],[3606.6,1.6],[3608.7,3],[3609.8,0.11],[3610.7,0.11],[3611.6,9.4],[3613.8,38],[3616.3,100],[3618.4,156],[3620.2,0.11],[3621.3,0.11],[3623.5,38],[3626.4,23],[3628.5,3.9],[3630.3,0.11],[3631.4,0.11],[3632.5,2.1],[3636.1,2.3],[3637.5,0.67],[3640.4,0.87],[3641.1,0.11],[3641.8,0.28],[3642.9,0.5],[3644.7,0.11],[3645.8,0.43],[3647.4,0.11],[3648.7,0.11],[3650.5,0.33],[3652.4,0.73],[3654.1,0.11],[3654.8,0.43],[3656.6,0.11],[3658.2,0.95],[3660.2,0.11],[3661.6,1.6],[3663.4,1.47],[3665.2,0.23],[3666.8,1.93],[3667.4,0.11],[3667.8,null],
[3676.3,0.11],[3677.5,60],[3679,35],[3681,50],[3683.5,3],[3684.5,0.12],[3686,45],[3688,85],[3690,35],[3692.5,45],[3693.6,0.11]];

const kolBrown=[[3290,3317.9],[3318.5,3320.1],[3322.2,3327.9],[3334.4,3335.9],[3351.3,3351.9],[3352.5,3356.2],[3356.5,3359],[3360.8,3366.1],
[3392.6,3394],[3395.9,3396.4],[3402.3,3410.2],[3412.1,3414],[3415,3417.7],[3418.3,3421.9],[3423.3,3429],[3430.8,3433.8],[3435,3435.6],[3438,3441.2],[3447.5,3448.2],[3449,3449.6],[3450.9,3451.9],[3452.5,3453.2],
[3458,3470.8],[3473.5,3492.9],[3493.8,3506.2],[3507.9,3539.3],[3539.9,3544.1],[3546.8,3547.1],[3547.8,3549.7],[3550.6,3555.6],[3556.5,3557.7],[3561.5,3563.5],[3564.6,3566.6],
[3567,3568.6],[3569,3609.6],[3611,3620.2],[3621.3,3630.2],[3632,3640.9],[3641.8,3644.6],[3645.4,3647.2],[3649.5,3650],[3650.4,3650.8],[3652,3652.7],[3653.5,3667.2],
[3676.2,3681],[3681.8,3691.5],[3692.2,3693.4]];
const kolBlack=[[3317.8,3318.5],[3320,3320.5],[3321.8,3322.2],[3327.9,3328.4],[3330.9,3331.5],[3334.2,3334.6],[3335.8,3336.1],[3342.1,3343.2],[3351,3351.4],[3351.9,3352.5],[3356.1,3356.6],[3358.9,3359.4],[3360.4,3360.9],[3366,3366.5],[3367.3,3367.8],
[3391,3391.4],[3392.3,3392.7],[3394,3394.5],[3395.6,3396],[3396.4,3396.8],[3401.9,3402.3],[3410.2,3410.7],[3411.7,3412.1],[3414,3415],[3417.7,3418.3],[3421.9,3422.3],[3422.9,3423.3],[3429,3429.5],[3430.4,3430.8],[3433.8,3434.2],[3434.6,3435],[3435.6,3436.1],[3437.5,3438],[3441.2,3441.7],[3442.3,3442.8],[3444.5,3445.4],[3447,3447.5],[3448.2,3448.8],[3449.6,3450.2],[3450.5,3450.9],[3451.9,3452.5],[3453.2,3454.2],[3455.4,3456.3],[3456.8,3457.6],
[3470.8,3471.2],[3473,3473.5],[3492.9,3493.2],[3493.5,3493.9],[3506.2,3506.6],[3507.5,3507.9],[3539.3,3539.9],[3544.1,3544.6],[3545.9,3546.8],[3547.1,3547.8],[3549.7,3550.6],[3555.6,3556],[3556.2,3556.5],[3557.7,3558.1],[3558.6,3559],[3559.7,3561.3],[3563.5,3564.6],
[3567.4,3568],[3568.6,3569],[3609.6,3610],[3610.5,3611],[3620.2,3621.3],[3630.2,3630.6],[3631.5,3632],[3640.9,3641.8],[3644.6,3645.4],[3647.2,3649.5],[3650,3650.4],[3650.8,3651.2],[3651.8,3652],[3652.7,3653.5],[3667.2,3667.5],
[3681,3681.2],[3681.5,3681.8],[3691.5,3692.2],[3693.4,3693.6]];
const perfIntervals=[[3290,3291.4],[3326.1,3338],[3342,3352.1]];
const saturationInterval=[[3290,3727.7]];

const gkRules=[70,90,110,130];
const ggkRules=[2.15,2.35,2.55,2.75];
const akRules=[200,250,300,350,400];
const porRules=[6,12,18,24];
const ikDecades=[10];
const ikMinor=[2,3,4,5,6,7,8,9,20,30,40,50,60,70,80,90];
const permDecades=[1,10,100];
const permMinor=[.2,.3,.4,.5,.6,.7,.8,.9,2,3,4,5,6,7,8,9,20,30,40,50,60,70,80,90,200,300,400,500,600,700,800,900];

// ---------- STYLE / LAYOUT ----------
const zoneColors=['#e8c088','#7b6cc4','#075fa3','#a000d0','#f58b42'];
const TOP=374.2, H=2287.8, D0=3290, D1=3727.7;
const edges={depth:[10.7,122.5],ao:[122.5,214.5],zone:[214.5,356],gk:[356,562],ik:[562,767],ggk:[767,973],ak:[973,1185],kol:[1185,1261],sat:[1261,1338],por:[1338,1543.5],perm:[1543.5,1766.5],perf:[1766.5,1835]};
const grids=[],xAxes=[],yAxes=[],series=[];
function mkGrid(key,top,h,bg){const e=edges[key];grids.push({left:e[0],width:e[1]-e[0],top:top||TOP,height:h||H,show:!!bg,backgroundColor:bg||'transparent',borderWidth:0});return grids.length-1}
function mkX(g,o){xAxes.push(Object.assign({type:'value',gridIndex:g,axisLine:{show:false},axisTick:{show:false},axisLabel:{show:false},splitLine:{show:false}},o));return xAxes.length-1}
function mkY(g,o){yAxes.push(Object.assign({type:'value',gridIndex:g,min:D0,max:D1,inverse:true,axisLine:{show:false},axisTick:{show:false},axisLabel:{show:false},splitLine:{show:false}},o));return yAxes.length-1}
const hColors=[];for(let i=0;i<25;i++){hColors.push(i===5?'#a8a8a8':i%5===0?'#c4c4c4':'#e6e6e6')}
const hSplit={interval:2,splitLine:{show:true,lineStyle:{color:hColors,width:2}}};
function line(name,pairs,xi,yi,color,width,z,extra){series.push(Object.assign({type:'line',name,xAxisIndex:xi,yAxisIndex:yi,data:pairs.map(p=>[p[1],p[0]]),showSymbol:false,symbol:'none',lineStyle:Object.assign({color,width,join:'round',cap:'round'},extra||{}),z,silent:true,animation:false,connectNulls:false},{}))}
function custom(xi,yi,data,renderItem,z,enc){series.push({type:'custom',xAxisIndex:xi,yAxisIndex:yi,data,renderItem,z,silent:true,animation:false,clip:true,progressive:0,encode:enc||{x:1,y:0}})}
function rules(xi,yi,vals,stroke,width,dash,z){custom(xi,yi,vals.map(v=>[D0,v]),function(p,api){const a=api.coord([api.value(1),D0]),b=api.coord([api.value(1),D1]);return{type:'line',shape:{x1:a[0],y1:a[1],x2:b[0],y2:b[1]},style:{stroke,lineWidth:width,lineDash:dash||null}}},z||1)}
function bands(xi,yi,ints,fill,z,stroke){custom(xi,yi,ints.map(r=>[r[0],r[1]]),function(p,api){const a=api.coord([0,api.value(0)]),b=api.coord([1,api.value(1)]);return{type:'rect',shape:{x:a[0],y:a[1],width:b[0]-a[0],height:b[1]-a[1]},style:{fill,stroke:stroke||null,lineWidth:stroke?1:0}}},z||2,{y:0})}
function hexMix(c1,c2,t){t=Math.max(0,Math.min(1,t));const f=(c,i)=>parseInt(c.substr(1+2*i,2),16);let s='#';for(let i=0;i<3;i++){s+=Math.round(f(c1,i)+(f(c2,i)-f(c1,i))*t).toString(16).padStart(2,'0')}return s}
function segments(arr){const out=[];for(let i=1;i<arr.length;i++){const a=arr[i-1],b=arr[i];if(a[1]!=null&&b[1]!=null&&b[0]-a[0]<12)out.push([a[0],a[1],b[0],b[1]])}return out}
function interp(arr,d){for(let i=1;i<arr.length;i++){if(arr[i][0]>=d){const a=arr[i-1],b=arr[i];if(a[1]==null||b[1]==null)return null;return a[1]+(b[1]-a[1])*(d-a[0])/(b[0]-a[0])}}return null}

// depth track
const gD=mkGrid('depth',TOP,H,'#f7faff');mkX(gD,{min:0,max:1});
const tick=(len,w)=>({show:true,inside:true,length:len,lineStyle:{color:'#111',width:w||2.5}});
const lblFont={fontFamily:'DejaVu Sans',fontWeight:'bold',fontSize:22,color:'#111'};
mkY(gD,{position:'left',axisTick:Object.assign(tick(11),{customValues:depthLabels}),axisLabel:Object.assign({show:true,inside:true,margin:56,align:'center',customValues:depthLabels,formatter:v=>String(v)},lblFont)});
mkY(gD,{position:'right',axisTick:Object.assign(tick(13),{customValues:depthLabels})});
mkY(gD,{position:'left',axisTick:Object.assign(tick(6),{customValues:depthMinor})});
mkY(gD,{position:'right',axisTick:Object.assign(tick(6),{customValues:depthMinor})});
// A.O. track
const AT=372.8,AH=2289.2;
const gA=mkGrid('ao',AT,AH);mkX(gA,{min:0,max:1});
const aoY={min:2410,max:2844.6};
mkY(gA,Object.assign({position:'left',axisTick:Object.assign(tick(11),{customValues:aoLabels}),axisLabel:Object.assign({show:true,inside:true,margin:46,align:'center',customValues:aoLabels,formatter:v=>String(v)},lblFont)},aoY));
mkY(gA,Object.assign({position:'right',axisTick:Object.assign(tick(10),{customValues:aoLabels})},aoY));
mkY(gA,Object.assign({position:'left',axisTick:Object.assign(tick(7),{customValues:aoMinor})},aoY));
mkY(gA,Object.assign({position:'right',axisTick:Object.assign(tick(5),{customValues:aoMinor})},aoY));

// zones
{const g=mkGrid('zone');const x=mkX(g,{min:0,max:1}),y=mkY(g,{});
custom(x,y,zoneTops.map((t,i)=>[t,zoneBottoms[i],i]),function(p,api){const a=api.coord([0,api.value(0)]),b=api.coord([1,api.value(1)]),i=api.value(2);
return{type:'group',children:[{type:'rect',shape:{x:a[0],y:a[1],width:b[0]-a[0],height:b[1]-a[1]},style:{fill:zoneColors[i]}},{type:'text',style:{text:zoneNames[i],x:(a[0]+b[0])/2,y:(a[1]+b[1])/2,fill:'#111',font:'bold 37px "DejaVu Sans"',textAlign:'center',textVerticalAlign:'middle',verticalAlign:'middle'}}]}},2,{y:0});}

// GK + caliper
{const g=mkGrid('gk');const xG=mkX(g,{min:50,max:150}),xC=mkX(g,{min:20,max:30,position:'top'}),y=mkY(g,hSplit);
rules(xG,y,gkRules,'#ababab',2,[9,3]);
line('Кавернометр',calLog,xC,y,'#ee1111',1.6,4,{type:[6,3]});
line('ГК',gkLog,xG,y,'#000000',5,5);}

// IK
{const g=mkGrid('ik');const x=mkX(g,{type:'log',logBase:10,min:1,max:100}),y=mkY(g,hSplit);
rules(x,y,ikMinor,'#dddddd',1.2);rules(x,y,ikDecades,'#ababab',2,[9,3]);
line('ИК 40',ik40Tips,x,y,'#33cc33',3.5,3);line('ИК 70',ik70Tips,x,y,'#0000ee',3.5,4);
line('ИК 100',ik100Log,x,y,'#dd2233',2.6,5);}

// GGK + NNK
{const g=mkGrid('ggk');const xG=mkX(g,{min:1.95,max:2.95}),xN=mkX(g,{min:-15,max:45,inverse:true,position:'top'}),y=mkY(g,hSplit);
rules(xG,y,ggkRules,'#ababab',2,[9,3]);
const ds=Array.from(new Set(ggkLog.map(p=>p[0]).concat(nnkLog.map(p=>p[0])))).filter(d=>d>=3290.1&&d<=3694).sort((a,b)=>a-b);
const cross=[];const toG=n=>1.95+(45-n)/60;
for(let i=1;i<ds.length;i++){const d0=ds[i-1],d1=ds[i];const g0=interp(ggkLog,d0),g1=interp(ggkLog,d1),n0=interp(nnkLog,d0),n1=interp(nnkLog,d1);
if(g0==null||g1==null||n0==null||n1==null)continue;const a0=toG(n0),a1=toG(n1);const s0=g0-a0,s1=g1-a1;
if(s0*s1<0){const t=s0/(s0-s1),dm=d0+(d1-d0)*t,gm=g0+(g1-g0)*t;cross.push([d0,g0,a0,dm,gm,gm]);cross.push([dm,gm,gm,d1,g1,a1])}else cross.push([d0,g0,a0,d1,g1,a1])}
custom(xG,y,cross,function(p,api){const d0=api.value(0),g0=api.value(1),a0=api.value(2),d1=api.value(3),g1=api.value(4),a1=api.value(5);
const c=(g0+g1)<(a0+a1)?'#ffff00':'#a52a2a';return{type:'polygon',shape:{points:[api.coord([g0,d0]),api.coord([g1,d1]),api.coord([a1,d1]),api.coord([a0,d0])]},style:{fill:c,stroke:c,lineWidth:.4}}},2);
line('ННК',nnkLog,xN,y,'#0000ee',5,4);line('ГГК-П',ggkLog,xG,y,'#ff0000',5,5);}

// AK
{const g=mkGrid('ak');const xP=mkX(g,{min:150,max:450,inverse:true}),xS=mkX(g,{min:350,max:650,inverse:true,position:'top'}),y=mkY(g,hSplit);
rules(xP,y,akRules,'#ababab',2,[9,3]);
line('Поперечная',akSLog,xS,y,'#33cc33',4.5,4);line('Продольная',akPLog,xP,y,'#ff22ff',4.5,5);}

// KOL-R
{const g=mkGrid('kol');const x=mkX(g,{min:0,max:1}),y=mkY(g,{});
bands(x,y,kolBrown,'#a52a2a',2);bands(x,y,kolBlack,'#0a0a0a',3);}
// Saturation
{const g=mkGrid('sat');const x=mkX(g,{min:0,max:1}),y=mkY(g,{});bands(x,y,saturationInterval,'#0000ff',2);}

// Porosity
{const g=mkGrid('por');const x=mkX(g,{min:0,max:30,inverse:true}),y=mkY(g,hSplit);
rules(x,y,porRules,'#ababab',2,[9,3]);
custom(x,y,segments(porLog),function(p,api){const d0=api.value(0),v0=api.value(1),d1=api.value(2),v1=api.value(3);
const c=hexMix('#bcbcbc','#ffff00',((v0+v1)/2-13)/8);
return{type:'polygon',shape:{points:[api.coord([v0,d0]),api.coord([v1,d1]),api.coord([0,d1]),api.coord([0,d0])]},style:{fill:c,stroke:c,lineWidth:.4}}},2);
line('Пористость',porLog,x,y,'#ff0000',5,5);}

// Permeability
{const g=mkGrid('perm');const x=mkX(g,{type:'log',logBase:10,min:.1,max:1000}),y=mkY(g,hSplit);
rules(x,y,permMinor,'#dddddd',1.2);rules(x,y,permDecades,'#ababab',2,[9,3]);
custom(x,y,segments(permLog),function(p,api){const d0=api.value(0),v0=api.value(1),d1=api.value(2),v1=api.value(3);
const L=(Math.log10(v0)+Math.log10(v1))/2;
const c=L<0.3?hexMix('#a8c8c8','#00ffff',(L+1)/1.3):hexMix('#00ffff','#0095ff',(L-1)/1.7);
return{type:'polygon',shape:{points:[api.coord([v0,d0]),api.coord([v1,d1]),api.coord([.1,d1]),api.coord([.1,d0])]},style:{fill:c,stroke:c,lineWidth:.4}}},2);
line('Проницаемость',permLog,x,y,'#00a8ff',5,5);}

// Perforation
{const g=mkGrid('perf');const x=mkX(g,{min:0,max:1}),y=mkY(g,{});bands(x,y,perfIntervals,'#000000',2);}

// Formation boundaries across the log
{edges.over=[214.5,1835];const g=mkGrid('over');const x=mkX(g,{min:0,max:1}),y=mkY(g,{});
const pts=[];zoneTops.slice(1).forEach(d=>{pts.push([d,0],[d,1],[d+.01,null])});
series.push({type:'line',name:'Границы',xAxisIndex:x,yAxisIndex:y,data:pts.map(p=>[p[1],p[0]]),showSymbol:false,symbol:'none',lineStyle:{color:'#000',width:5},z:20,silent:true,animation:false});}

// ---------- HEADER ----------
const g=[];const Z=50;
const vL=(x,y1,y2,c,w)=>g.push({type:'line',z:Z,shape:{x1:x,y1,x2:x,y2},style:{stroke:c||'#111',lineWidth:w||2.2}});
const hL=(x1,x2,y,c,w,dash)=>g.push({type:'line',z:Z,shape:{x1,y1:y,x2,y2:y},style:{stroke:c,lineWidth:w,lineDash:dash||null}});
const T=(s,x,y,c,size,o)=>g.push(Object.assign({type:'text',z:Z+1,x,y,style:{text:s,fill:c,font:(o&&o.font)||('bold '+size+'px "DejaVu Sans"'),textAlign:'center',textVerticalAlign:'middle',verticalAlign:'middle'}},o&&o.rotation?{rotation:o.rotation}:{}));
g.push({type:'rect',z:0,shape:{x:10.7,y:7,width:111.8,height:364},style:{fill:'#f7faff'}});
g.push({type:'rect',z:Z-1,shape:{x:1185,y:287,width:76,height:85},style:{fill:'#a52a2a'}});
g.push({type:'rect',z:Z-1,shape:{x:1766.5,y:287,width:68.5,height:85},style:{fill:'#000'}});
[10.7,122.5,214.5,356,562,767,973,1185,1261,1338,1766.5,1835].forEach(x=>vL(x,7,2662));
vL(1543.5,7,372);vL(1543.5,372,2662,'#6a0000',2.2);
hL(10,1836,7,'#111',2.5);hL(10,1836,371,'#777',3);
hL(122.5,214.5,119,'#333',3);hL(973,1185,119,'#333',3);
T('А.О.',168,45,'#111',24);T('(м)',168,86,'#111',24);
T('Глубина',66,178,'#111',22);T('(м)',66,204,'#111',22);
const RED='#ee1111',BLUE='#0000dd',GRN='#33bb33',MAG='#ee22ee',SKY='#0aa0ee';
T('Каверномер',458.5,226,RED,22);hL(356,561,245.7,RED,3,[8,3]);
T('20',385,268,RED,20);T('см',458,268,RED,20);T('30',531,268,RED,20);
T('ГК',458,310,'#111',20);hL(356,561,330,'#000',5);
T('50',385,353,'#111',19);T('gAPI',458,353,'#111',19);T('150',525,353,'#111',19);
T('ИК (100 см зонд)',664,142.7,RED,21);hL(562,767,161.7,RED,3);
T('1',584,183,RED,20);T('Ом·м',663,183,RED,20);T('100',731,183,RED,20);
T('ИК (70 см зонд)',664,226,BLUE,21);hL(562,767,245.7,BLUE,3);
T('1',584,268,BLUE,20);T('Ом·м',663,268,BLUE,20);T('100',731,268,BLUE,20);
T('ИК (40 см зонд)',664,310,GRN,21);hL(562,767,330,GRN,3);
T('1',584,353,GRN,20);T('Ом·м',663,353,GRN,20);T('100',731,353,GRN,20);
T('ГГК-П',870,226,RED,21);hL(767,973,245.7,RED,5);
T('1.95',802,268,RED,17);T('г/см3',870,268,RED,17);T('2.95',937,268,RED,17);
T('ННК',870,310,BLUE,21);hL(767,973,330,BLUE,5);
T('45',797,353,BLUE,20);T('%',870,353,BLUE,20);T('-15',943,353,BLUE,20);
T('АК',1079.5,43,'#111',25);T('Интервальное',1079.5,72,'#111',25);T('время',1079.5,101,'#111',25);
T('Продольная',1079,226,MAG,21);hL(973,1185,245.7,MAG,5);
T('450',1006,268,MAG,19);T('мкс/м',1078,268,MAG,19);T('150',1151,268,MAG,19);
T('Поперечная',1079,310,GRN,21);hL(973,1185,330,GRN,5);
T('650',1006,353,GRN,19);T('мкс/м',1078,353,GRN,19);T('350',1151,353,GRN,19);
T('КОЛ-Р',1223,332,'#ffffff',21,{font:'21px "Liberation Sans"'});
T('ПЕРФ',1800,332,'#ffffff',20,{font:'20px "Liberation Sans"'});
T('Насыщение',1300,287,'#111',20.5,{rotation:Math.PI/2});
T('Пористость',1440,311,RED,20.5);hL(1338,1543,330,'#e82222',5);
T('30',1367,353,RED,20);T('%',1440,353,RED,20);T('0',1520,353,RED,20);
T('Проницаемость',1655,311,SKY,21);hL(1544,1766,330,'#0aa0ee',5);
T('0.1',1576,353,SKY,20);T('мД',1655,353,SKY,20);T('1000',1721,353,SKY,20);

const chart=echarts.init(document.getElementById('c'),null,{renderer:'canvas',width:1849,height:2662});
chart.setOption({animation:false,backgroundColor:'#ffffff',tooltip:{show:false},legend:{show:false},grid:grids,xAxis:xAxes,yAxis:yAxes,series,graphic:{elements:g}});
</script></body></html>
